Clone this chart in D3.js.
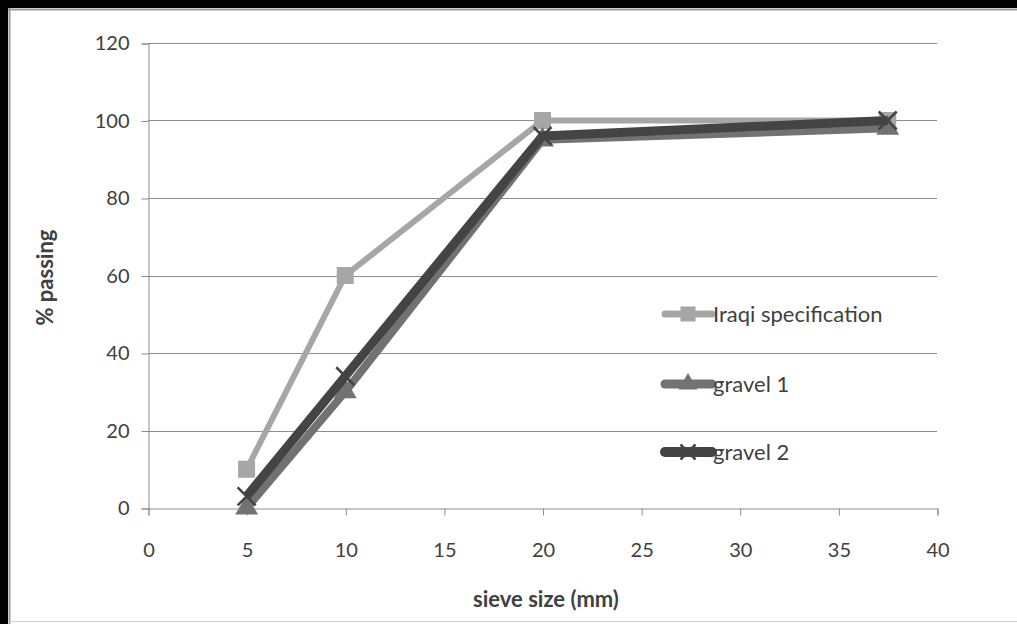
<!DOCTYPE html>
<html>
<head>
<meta charset="UTF-8">
<script src="https://d3js.org/d3.v7.min.js"></script>
<style>
  body { margin: 0; background: #fff; }
  svg text { font-family: Lato, "Open Sans", sans-serif; fill: #404040; }
</style>
</head>
<body>
<div id="chart"></div>
<script>
// sieve sizes (mm) and % passing
const sieves = [5, 10, 20, 37.5];
const iraqiSpec = [10, 60, 100, 100];
const gravel1 = [0, 30, 95, 98];
const gravel2 = [3, 34, 96, 100];
const xTicks = [0, 5, 10, 15, 20, 25, 30, 35, 40];
const yTicks = [0, 20, 40, 60, 80, 100, 120];

const series = [
  { name: "Iraqi specification", values: iraqiSpec, color: "#a6a6a6", width: 6, marker: "square" },
  { name: "gravel 1", values: gravel1, color: "#727272", width: 8, marker: "triangle" },
  { name: "gravel 2", values: gravel2, color: "#444444", width: 9, marker: "x" }
];

const W = 1017, H = 624;
const svg = d3.select("#chart").append("svg").attr("width", W).attr("height", H);

// frame of the picture
svg.append("rect").attr("x", 0).attr("y", 0).attr("width", W).attr("height", 8).attr("fill", "#000");
svg.append("rect").attr("x", 0).attr("y", 0).attr("width", 8).attr("height", H).attr("fill", "#000");
svg.append("line").attr("x1", 8).attr("x2", W).attr("y1", 9.5).attr("y2", 9.5).attr("stroke", "#9a9a9a").attr("stroke-width", 2);
svg.append("line").attr("x1", 9.5).attr("x2", 9.5).attr("y1", 8).attr("y2", H).attr("stroke", "#9a9a9a").attr("stroke-width", 2);
svg.append("line").attr("x1", 8).attr("x2", W).attr("y1", 621.5).attr("y2", 621.5).attr("stroke", "#d0d0d0").attr("stroke-width", 1);

const x = d3.scaleLinear().domain([0, 40]).range([148, 937]);
const y = d3.scaleLinear().domain([0, 120]).range([508, 43]);

// gridlines
svg.append("g").selectAll("line").data(yTicks.slice(1)).join("line")
  .attr("x1", x(0)).attr("x2", x(40))
  .attr("y1", d => Math.round(y(d)) + 0.5).attr("y2", d => Math.round(y(d)) + 0.5)
  .attr("stroke", "#8c8c8c").attr("stroke-width", 1);

// y axis
const yAxis = svg.append("g").attr("transform", `translate(${x(0) + 0.5},0.5)`)
  .call(d3.axisLeft(y).tickValues(yTicks).tickSize(7).tickPadding(12));
// x axis
const xAxis = svg.append("g").attr("transform", `translate(0.5,${Math.round(y(0)) + 0.5})`)
  .call(d3.axisBottom(x).tickValues(xTicks).tickSize(7).tickPadding(27));
[yAxis, xAxis].forEach(a => {
  a.select(".domain").attr("stroke", "#8c8c8c");
  a.selectAll(".tick line").attr("stroke", "#8c8c8c");
  a.selectAll("text").style("font-size", "20px").style("font-family", "Lato, sans-serif").attr("fill", "#404040");
});

// axis titles
svg.append("text").attr("x", 546).attr("y", 607).attr("text-anchor", "middle")
  .style("font-size", "22px").style("font-weight", "bold").attr("fill", "#262626").text("sieve size (mm)");
svg.append("text").attr("transform", `translate(53,${y(60) + 2}) rotate(-90)`).attr("text-anchor", "middle")
  .style("font-size", "22px").style("font-weight", "bold").attr("fill", "#262626").text("% passing");

const line = d3.line().x(d => x(d[0])).y(d => y(d[1]));

function drawMarker(g, type, color, size) {
  if (type === "square") {
    g.append("rect").attr("x", -size / 2).attr("y", -size / 2).attr("width", size).attr("height", size)
      .attr("fill", color);
  } else if (type === "triangle") {
    g.append("path").attr("d", d3.symbol(d3.symbolTriangle, size * size * 0.7)())
      .attr("fill", color);
  } else {
    const s = size / 2;
    g.append("path").attr("d", `M${-s},${-s}L${s},${s}M${-s},${s}L${s},${-s}`)
      .attr("stroke", color).attr("stroke-width", 2.5);
  }
}

series.forEach(s => {
  const pts = sieves.map((v, i) => [v, s.values[i]]);
  svg.append("path").datum(pts).attr("d", line)
    .attr("fill", "none").attr("stroke", s.color).attr("stroke-width", s.width)
    .attr("stroke-linejoin", "round");
  pts.forEach(p => {
    const g = svg.append("g").attr("transform", `translate(${x(p[0])},${y(p[1])})`);
    drawMarker(g, s.marker, s.color, s.marker === "square" ? 17 : 18);
  });
});

// legend
const legend = svg.append("g");
const legY = [314, 384, 452];
series.forEach((s, i) => {
  const g = legend.append("g").attr("transform", `translate(0,${legY[i]})`);
  g.append("line").attr("x1", 665).attr("x2", 712).attr("y1", 0).attr("y2", 0)
    .attr("stroke", s.color).attr("stroke-width", s.width + 1).attr("stroke-linecap", "round");
  const m = g.append("g").attr("transform", "translate(688,0)");
  drawMarker(m, s.marker, s.color, 15);
  g.append("text").attr("x", 713).attr("y", 8).style("font-size", "22px").attr("fill", "#404040").text(s.name);
});
</script>
</body>
</html>
